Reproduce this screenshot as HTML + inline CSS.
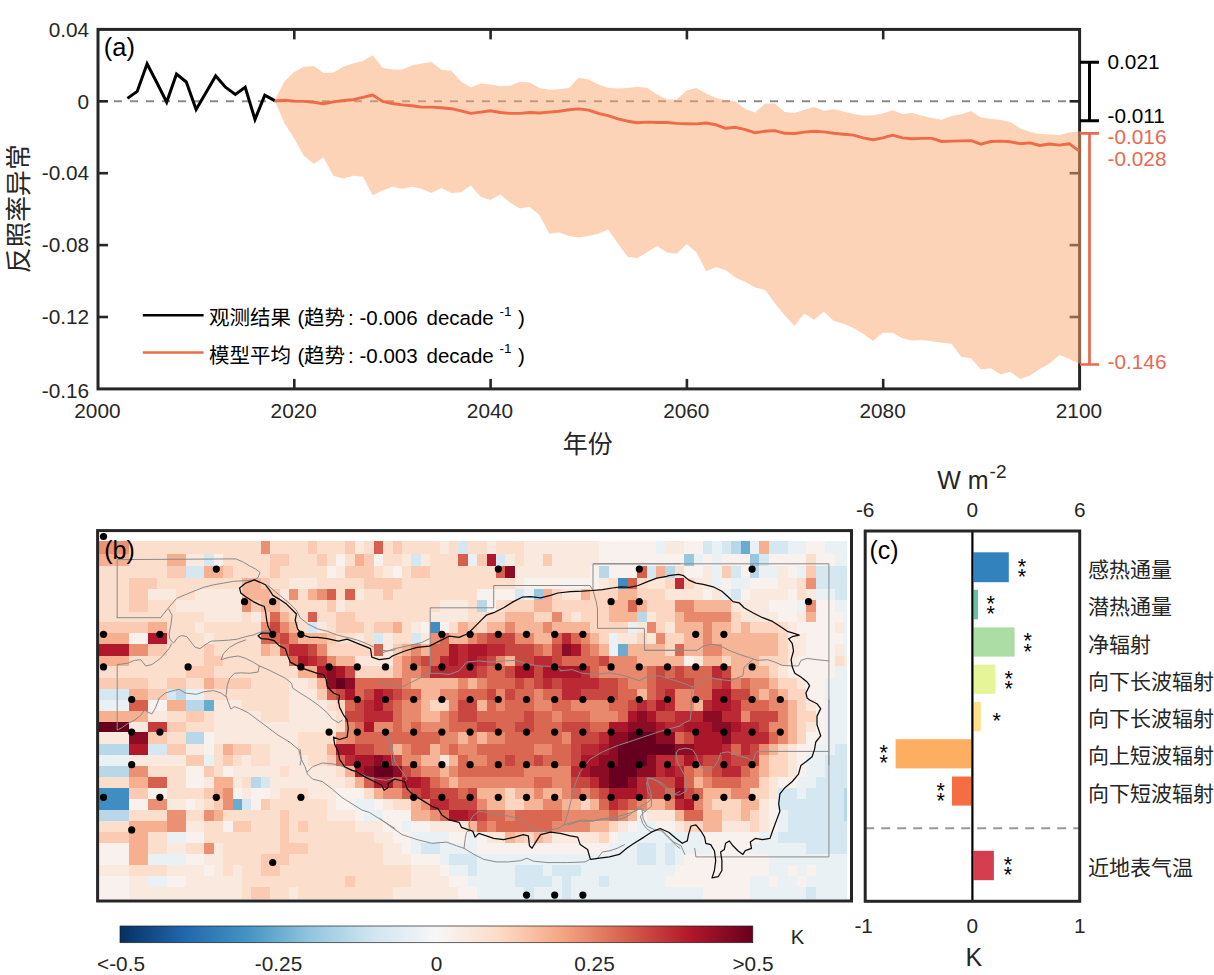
<!DOCTYPE html>
<html><head><meta charset="utf-8"><title>fig</title><style>
html,body{margin:0;padding:0;background:#fff;}body{width:1214px;height:975px;overflow:hidden;}
svg{display:block;}text{font-family:"Liberation Sans","Noto Sans CJK SC",sans-serif;}
</style></head><body>
<svg width="1214" height="975" viewBox="0 0 1214 975" fill="#262626">
<rect width="1214" height="975" fill="#fff"/>
<line x1="98.0" y1="101.3" x2="1079.6" y2="101.3" stroke="#8c8c8c" stroke-width="2" stroke-dasharray="8,8"/>
<rect x="98.0" y="29.4" width="981.6" height="359.5" fill="none" stroke="#262626" stroke-width="3"/>
<line x1="294.3" y1="29.4" x2="294.3" y2="39.4" stroke="#262626" stroke-width="2.6"/>
<line x1="294.3" y1="388.9" x2="294.3" y2="378.9" stroke="#262626" stroke-width="2.6"/>
<line x1="490.6" y1="29.4" x2="490.6" y2="39.4" stroke="#262626" stroke-width="2.6"/>
<line x1="490.6" y1="388.9" x2="490.6" y2="378.9" stroke="#262626" stroke-width="2.6"/>
<line x1="686.9" y1="29.4" x2="686.9" y2="39.4" stroke="#262626" stroke-width="2.6"/>
<line x1="686.9" y1="388.9" x2="686.9" y2="378.9" stroke="#262626" stroke-width="2.6"/>
<line x1="883.2" y1="29.4" x2="883.2" y2="39.4" stroke="#262626" stroke-width="2.6"/>
<line x1="883.2" y1="388.9" x2="883.2" y2="378.9" stroke="#262626" stroke-width="2.6"/>
<line x1="98.0" y1="101.3" x2="108.0" y2="101.3" stroke="#262626" stroke-width="2.6"/>
<line x1="1079.6" y1="101.3" x2="1069.6" y2="101.3" stroke="#262626" stroke-width="2.6"/>
<line x1="98.0" y1="173.2" x2="108.0" y2="173.2" stroke="#262626" stroke-width="2.6"/>
<line x1="1079.6" y1="173.2" x2="1069.6" y2="173.2" stroke="#262626" stroke-width="2.6"/>
<line x1="98.0" y1="245.1" x2="108.0" y2="245.1" stroke="#262626" stroke-width="2.6"/>
<line x1="1079.6" y1="245.1" x2="1069.6" y2="245.1" stroke="#262626" stroke-width="2.6"/>
<line x1="98.0" y1="317.0" x2="108.0" y2="317.0" stroke="#262626" stroke-width="2.6"/>
<line x1="1079.6" y1="317.0" x2="1069.6" y2="317.0" stroke="#262626" stroke-width="2.6"/>
<polygon points="274.6,100.5 284.4,81.5 294.2,72.0 304.0,66.8 313.8,65.9 323.6,72.9 333.4,72.5 343.2,66.8 353.1,63.4 362.9,61.1 372.7,55.2 382.5,67.7 392.3,69.4 402.1,69.8 411.9,65.6 421.7,63.4 431.5,62.1 441.4,69.8 451.2,70.8 461.0,81.5 470.8,87.5 480.6,83.5 490.4,84.4 500.2,86.2 510.0,85.8 519.8,81.7 529.6,82.6 539.5,88.0 549.3,89.8 559.1,89.3 568.9,88.0 578.7,77.7 588.5,79.5 598.3,84.4 608.1,87.7 617.9,88.6 627.7,88.0 637.6,86.8 647.4,88.0 657.2,94.4 667.0,99.4 676.8,99.4 686.6,90.4 696.4,88.0 706.2,93.5 716.0,98.0 725.8,100.2 735.6,101.6 745.5,109.2 755.3,112.5 765.1,103.4 774.9,103.4 784.7,111.9 794.5,113.0 804.3,109.8 814.1,107.1 823.9,110.7 833.8,109.2 843.6,111.6 853.4,113.9 863.2,115.6 873.0,115.2 882.8,113.4 892.6,110.3 902.4,113.9 912.2,113.0 922.0,115.7 931.9,117.9 941.7,119.7 951.5,116.1 961.3,114.3 971.1,111.0 980.9,117.6 990.7,118.8 1000.5,120.1 1010.3,121.9 1020.1,128.4 1030.0,132.1 1039.8,133.9 1049.6,134.6 1059.4,135.1 1069.2,132.4 1079.0,131.2 1081.0,131.2 1081.0,363.6 1079.0,363.6 1069.2,359.1 1059.4,355.1 1049.6,363.6 1039.8,369.1 1030.0,375.4 1020.1,379.0 1010.3,371.8 1000.5,374.5 990.7,368.2 980.9,369.6 971.1,358.2 961.3,356.9 951.5,343.7 941.7,342.4 931.9,341.3 922.0,340.1 912.2,340.4 902.4,338.3 892.6,332.8 882.8,332.8 873.0,341.0 863.2,333.7 853.4,327.9 843.6,323.8 833.8,321.0 823.9,311.6 814.1,319.8 804.3,313.4 794.5,326.1 784.7,315.6 774.9,303.3 765.1,289.9 755.3,287.5 745.5,282.1 735.6,277.6 725.8,270.3 716.0,267.0 706.2,271.2 696.4,252.2 686.6,244.0 676.8,253.7 667.0,252.5 657.2,246.1 647.4,251.9 637.6,257.9 627.7,257.0 617.9,243.4 608.1,229.4 598.3,233.8 588.5,236.1 578.7,237.4 568.9,236.1 559.1,232.5 549.3,233.8 539.5,215.3 529.6,206.8 519.8,208.4 510.0,202.6 500.2,194.5 490.4,199.9 480.6,196.8 470.8,185.4 461.0,192.2 451.2,193.1 441.4,187.9 431.5,193.1 421.7,188.8 411.9,186.7 402.1,188.8 392.3,186.7 382.5,190.5 372.7,195.3 362.9,176.7 353.1,175.8 343.2,178.4 333.4,175.8 323.6,157.6 313.8,163.7 304.0,155.9 294.2,138.6 284.4,123.0 274.6,100.5" fill="#fca772" fill-opacity="0.5"/>
<polyline points="274.6,100.9 284.4,100.2 294.2,101.1 304.0,101.4 313.8,102.3 323.6,103.7 333.4,101.9 343.2,100.5 353.1,99.7 362.9,97.4 372.7,95.0 382.5,101.4 392.3,103.5 402.1,104.9 411.9,105.7 421.7,107.1 431.5,107.1 441.4,107.8 451.2,108.7 461.0,110.9 470.8,113.4 480.6,112.1 490.4,110.7 500.2,112.5 510.0,113.4 519.8,113.4 529.6,112.5 539.5,113.0 549.3,112.1 559.1,111.2 568.9,109.8 578.7,108.9 588.5,110.1 598.3,113.4 608.1,115.6 617.9,118.8 627.7,121.2 637.6,122.8 647.4,122.1 657.2,122.5 667.0,122.5 676.8,123.4 686.6,123.7 696.4,123.9 706.2,123.0 716.0,124.8 725.8,128.3 735.6,127.3 745.5,129.7 755.3,132.8 765.1,131.2 774.9,130.6 784.7,133.3 794.5,133.5 804.3,132.1 814.1,131.3 823.9,131.9 833.8,133.3 843.6,134.2 853.4,135.1 863.2,137.9 873.0,139.7 882.8,137.9 892.6,135.1 902.4,137.9 912.2,138.8 922.0,138.4 931.9,138.4 941.7,141.5 951.5,141.1 961.3,140.9 971.1,140.6 980.9,144.2 990.7,141.5 1000.5,141.1 1010.3,141.8 1020.1,143.7 1030.0,142.9 1039.8,145.5 1049.6,144.0 1059.4,145.1 1069.2,143.7 1079.0,150.9" fill="none" stroke="#ee6b45" stroke-width="2.9" stroke-linejoin="round"/>
<polyline points="127.4,98.4 137.2,91.4 147.1,63.8 156.9,82.8 166.7,102.1 176.5,74.1 186.3,82.0 196.1,109.5 205.9,92.7 215.7,75.9 225.5,87.2 235.3,94.4 245.2,87.2 255.0,119.4 264.8,95.1 274.6,100.6" fill="none" stroke="#000" stroke-width="3" stroke-linejoin="miter"/>
<text x="89.2" y="36.6" font-size="20.8" text-anchor="end">0.04</text>
<text x="89.2" y="108.5" font-size="20.8" text-anchor="end">0</text>
<text x="89.2" y="180.4" font-size="20.8" text-anchor="end">-0.04</text>
<text x="89.2" y="252.3" font-size="20.8" text-anchor="end">-0.08</text>
<text x="89.2" y="324.2" font-size="20.8" text-anchor="end">-0.12</text>
<text x="89.2" y="398.0" font-size="20.8" text-anchor="end">-0.16</text>
<text x="97.4" y="418.0" font-size="20.8" text-anchor="middle">2000</text>
<text x="293.7" y="418.0" font-size="20.8" text-anchor="middle">2020</text>
<text x="490.0" y="418.0" font-size="20.8" text-anchor="middle">2040</text>
<text x="686.3" y="418.0" font-size="20.8" text-anchor="middle">2060</text>
<text x="882.6" y="418.0" font-size="20.8" text-anchor="middle">2080</text>
<text x="1078.9" y="418.0" font-size="20.8" text-anchor="middle">2100</text>
<text x="103.85" y="56.2" font-size="25.5" fill="#000">(a)</text>
<path d="M1080.0 62.3H1099.0M1080.0 120.7H1099.0M1089.5 62.3V120.7" stroke="#000" stroke-width="3.0" fill="none"/>
<path d="M1080.0 133.3H1099.0M1080.0 364.5H1099.0M1089.5 133.3V364.5" stroke="#e8694e" stroke-width="2.7" fill="none"/>
<text x="1107.5" y="68.8" font-size="20.8" fill="#000">0.021</text>
<text x="1107.5" y="122.5" font-size="20.8" fill="#000">-0.011</text>
<text x="1107.5" y="143.8" font-size="20.8" fill="#e8694e">-0.016</text>
<text x="1107.5" y="165.8" font-size="20.8" fill="#e8694e">-0.028</text>
<text x="1107.5" y="369" font-size="20.8" fill="#e8694e">-0.146</text>
<text transform="translate(28.30,208.80) rotate(-90)" x="0" y="0" font-size="25.8" fill="#262626" text-anchor="middle" font-family='"Liberation Sans","Noto Sans CJK SC",sans-serif'>反照率异常</text>
<text x="587.7" y="453" font-size="25" fill="#262626" text-anchor="middle" font-family='"Liberation Sans","Noto Sans CJK SC",sans-serif'>年份</text>
<line x1="142.8" y1="315.3" x2="203.6" y2="315.3" stroke="#000" stroke-width="2.6"/>
<line x1="142.8" y1="352.5" x2="203.6" y2="352.5" stroke="#ee6b45" stroke-width="2.6"/>
<text y="325.4" font-size="20.5" fill="#000" font-family='"Liberation Sans","Noto Sans CJK SC",sans-serif'><tspan x="209">观测结果</tspan><tspan x="297.5">(</tspan><tspan x="304">趋势</tspan><tspan x="348">:</tspan><tspan x="359.5">-0.006</tspan><tspan x="426.5">decade</tspan><tspan x="499.5" y="316.1" font-size="13.5">-1</tspan><tspan x="518" y="325.4">)</tspan></text>
<text y="362.6" font-size="20.5" fill="#000" font-family='"Liberation Sans","Noto Sans CJK SC",sans-serif'><tspan x="209">模型平均</tspan><tspan x="297.5">(</tspan><tspan x="304">趋势</tspan><tspan x="348">:</tspan><tspan x="359.5">-0.003</tspan><tspan x="426.5">decade</tspan><tspan x="499.5" y="353.3" font-size="13.5">-1</tspan><tspan x="518" y="362.6">)</tspan></text>
<rect x="973.5" y="552.3" width="35.3" height="29.9" fill="#3182bd"/>
<rect x="973.5" y="589.8" width="4.5" height="29.6" fill="#66c2a5"/>
<rect x="973.5" y="627.4" width="41.1" height="29.2" fill="#abdda4"/>
<rect x="973.5" y="664.6" width="22.0" height="29.2" fill="#e6f598"/>
<rect x="973.5" y="702.0" width="7.3" height="29.2" fill="#fee08b"/>
<rect x="895.6" y="739.2" width="75.7" height="29.2" fill="#fdae61"/>
<rect x="952.0" y="776.5" width="19.3" height="29.1" fill="#f46d43"/>
<rect x="973.5" y="850.8" width="20.4" height="29.4" fill="#d53e4f"/>
<line x1="865.2" y1="828.3" x2="1079.7" y2="828.3" stroke="#999" stroke-width="2" stroke-dasharray="9,7"/>
<line x1="972.4" y1="531.0" x2="972.4" y2="901.3" stroke="#000" stroke-width="2.2"/>
<rect x="865.2" y="531.0" width="214.5" height="370.3" fill="none" stroke="#262626" stroke-width="3"/>
<text x="869.4" y="558.9" font-size="25" fill="#000">(c)</text>
<text x="1021.9" y="573.5" font-size="21.5" fill="#000" text-anchor="middle">*</text>
<text x="1021.9" y="583.6" font-size="21.5" fill="#000" text-anchor="middle">*</text>
<text x="990.8" y="611.0" font-size="21.5" fill="#000" text-anchor="middle">*</text>
<text x="990.8" y="621.1" font-size="21.5" fill="#000" text-anchor="middle">*</text>
<text x="1027.8" y="648.4" font-size="21.5" fill="#000" text-anchor="middle">*</text>
<text x="1027.8" y="658.5" font-size="21.5" fill="#000" text-anchor="middle">*</text>
<text x="1008.8" y="685.8" font-size="21.5" fill="#000" text-anchor="middle">*</text>
<text x="1008.8" y="695.9" font-size="21.5" fill="#000" text-anchor="middle">*</text>
<text x="996.8" y="728.2" font-size="21.5" fill="#000" text-anchor="middle">*</text>
<text x="883.6" y="760.2" font-size="21.5" fill="#000" text-anchor="middle">*</text>
<text x="883.6" y="770.3" font-size="21.5" fill="#000" text-anchor="middle">*</text>
<text x="940.6" y="797.5" font-size="21.5" fill="#000" text-anchor="middle">*</text>
<text x="940.6" y="807.6" font-size="21.5" fill="#000" text-anchor="middle">*</text>
<text x="1008.0" y="872.2" font-size="21.5" fill="#000" text-anchor="middle">*</text>
<text x="1008.0" y="882.3" font-size="21.5" fill="#000" text-anchor="middle">*</text>
<text x="865.2" y="516.6" font-size="20.8" text-anchor="middle">-6</text>
<text x="972.4" y="516.6" font-size="20.8" text-anchor="middle">0</text>
<text x="1079.7" y="516.6" font-size="20.8" text-anchor="middle">6</text>
<text x="863.7" y="933.3" font-size="20.8" text-anchor="middle">-1</text>
<text x="972.4" y="933.3" font-size="20.8" text-anchor="middle">0</text>
<text x="1079.7" y="933.3" font-size="20.8" text-anchor="middle">1</text>
<text x="962.9" y="489.4" font-size="25" text-anchor="middle">W m</text>
<text x="989.6" y="478.1" font-size="19">-2</text>
<text x="973.8" y="966.3" font-size="25" text-anchor="middle">K</text>
<text x="1088.1" y="576.6" font-size="21" fill="#262626" font-family='"Liberation Sans","Noto Sans CJK SC",sans-serif'>感热通量</text>
<text x="1088.1" y="614.2" font-size="21" fill="#262626" font-family='"Liberation Sans","Noto Sans CJK SC",sans-serif'>潜热通量</text>
<text x="1088.1" y="651.8" font-size="21" fill="#262626" font-family='"Liberation Sans","Noto Sans CJK SC",sans-serif'>净辐射</text>
<text x="1088.1" y="688.8" font-size="21" fill="#262626" font-family='"Liberation Sans","Noto Sans CJK SC",sans-serif'>向下长波辐射</text>
<text x="1088.1" y="725.8" font-size="21" fill="#262626" font-family='"Liberation Sans","Noto Sans CJK SC",sans-serif'>向下长波辐射</text>
<text x="1088.1" y="763.2" font-size="21" fill="#262626" font-family='"Liberation Sans","Noto Sans CJK SC",sans-serif'>向上短波辐射</text>
<text x="1088.1" y="800.8" font-size="21" fill="#262626" font-family='"Liberation Sans","Noto Sans CJK SC",sans-serif'>向下短波辐射</text>
<text x="1088.1" y="875.2" font-size="21" fill="#262626" font-family='"Liberation Sans","Noto Sans CJK SC",sans-serif'>近地表气温</text>
<g id="map">
<g shape-rendering="crispEdges">
<path fill="#eb9072" d="M99 541h30v13h-30zM261 541h9v13h-9zM806 578h10v11h-10zM289 589h9v11h-9zM317 589h10v11h-10zM242 600h9v12h-9zM806 600h10v12h-10zM261 622h9v11h-9zM430 633h10v11h-10zM129 644h19v12h-19zM336 732h9v12h-9zM129 766h19v11h-19zM223 788h10v11h-10zM383 788h19v11h-19zM148 799h19v11h-19zM223 799h10v11h-10zM421 799h9v11h-9zM167 810h19v11h-19zM204 810h10v11h-10zM430 810h10v11h-10zM167 821h19v11h-19zM204 843h10v11h-10z"/>
<path fill="#fcdecc" d="M129 541h132v13h-132zM270 541h38v13h-38zM317 541h28v13h-28zM364 541h10v13h-10zM383 541h10v13h-10zM402 541h38v13h-38zM449 541h9v13h-9zM468 541h19v13h-19zM496 541h28v13h-28zM129 554h38v12h-38zM223 554h47v12h-47zM289 554h28v12h-28zM327 554h9v12h-9zM345 554h10v12h-10zM383 554h19v12h-19zM430 554h28v12h-28zM515 554h9v12h-9zM806 554h10v12h-10zM99 566h68v12h-68zM233 566h37v12h-37zM280 566h47v12h-47zM374 566h9v12h-9zM402 566h9v12h-9zM430 566h66v12h-66zM675 566h9v12h-9zM99 578h30v11h-30zM157 578h85v11h-85zM270 578h19v11h-19zM317 578h47v11h-47zM402 578h113v11h-113zM609 578h9v11h-9zM637 578h10v11h-10zM797 578h9v11h-9zM99 589h30v11h-30zM176 589h19v11h-19zM298 589h10v11h-10zM336 589h9v11h-9zM364 589h19v11h-19zM393 589h84v11h-84zM797 589h9v11h-9zM99 600h30v12h-30zM148 600h28v12h-28zM289 600h38v12h-38zM345 600h95v12h-95zM468 600h9v12h-9zM496 600h9v12h-9zM99 612h105v10h-105zM242 612h9v10h-9zM298 612h10v10h-10zM317 612h19v10h-19zM355 612h75v10h-75zM468 612h19v10h-19zM167 622h28v11h-28zM204 622h57v11h-57zM298 622h10v11h-10zM327 622h9v11h-9zM364 622h10v11h-10zM402 622h9v11h-9zM449 622h9v11h-9zM778 622h10v11h-10zM167 633h37v11h-37zM214 633h47v11h-47zM336 633h19v11h-19zM364 633h10v11h-10zM393 633h18v11h-18zM167 644h37v12h-37zM214 644h47v12h-47zM129 656h75v10h-75zM223 656h66v10h-66zM835 656h9v10h-9zM99 666h87v12h-87zM214 666h84v12h-84zM148 678h19v11h-19zM186 678h18v11h-18zM251 678h38v11h-38zM308 678h9v11h-9zM204 689h85v11h-85zM242 700h47v11h-47zM327 700h9v11h-9zM167 711h19v11h-19zM204 711h10v11h-10zM261 711h28v11h-28zM336 711h9v11h-9zM186 722h28v10h-28zM336 722h9v10h-9zM167 732h19v12h-19zM298 732h38v12h-38zM214 744h9v11h-9zM251 744h19v11h-19zM298 744h29v11h-29zM214 755h9v11h-9zM233 755h9v11h-9zM251 755h19v11h-19zM308 755h19v11h-19zM148 766h38v11h-38zM214 766h9v11h-9zM280 766h9v11h-9zM336 766h9v11h-9zM99 777h30v11h-30zM167 777h19v11h-19zM242 777h9v11h-9zM345 777h10v11h-10zM167 788h37v11h-37zM280 788h28v11h-28zM364 788h10v11h-10zM204 799h10v11h-10zM270 799h57v11h-57zM393 799h18v11h-18zM129 810h38v11h-38zM186 810h18v11h-18zM223 810h57v11h-57zM289 810h38v11h-38zM99 821h30v11h-30zM204 821h19v11h-19zM251 821h29v11h-29zM289 821h9v11h-9zM308 821h47v11h-47zM148 832h19v11h-19zM204 832h76v11h-76zM289 832h85v11h-85zM148 843h19v11h-19zM186 843h18v11h-18zM223 843h57v11h-57zM308 843h75v11h-75zM223 854h38v11h-38zM289 854h94v11h-94zM129 865h38v11h-38zM223 865h10v11h-10zM242 865h19v11h-19zM280 865h131v11h-131zM242 876h103v11h-103zM355 876h56v11h-56zM242 887h9v12h-9zM270 887h19v12h-19zM298 887h95v12h-95z"/>
<path fill="#facbb2" d="M308 541h9v13h-9zM345 541h10v13h-10zM393 541h9v13h-9zM270 554h19v12h-19zM317 554h10v12h-10zM364 554h10v12h-10zM477 554h10v12h-10zM543 554h9v12h-9zM167 566h19v12h-19zM223 566h10v12h-10zM270 566h10v12h-10zM345 566h29v12h-29zM411 566h19v12h-19zM722 566h9v12h-9zM806 566h10v12h-10zM129 578h28v11h-28zM261 578h9v11h-9zM364 578h38v11h-38zM129 589h19v11h-19zM270 589h10v11h-10zM383 589h10v11h-10zM129 600h19v12h-19zM251 600h10v12h-10zM327 600h9v12h-9zM261 612h9v10h-9zM336 612h19v10h-19zM99 622h49v11h-49zM336 622h28v11h-28zM374 622h19v11h-19zM468 622h9v11h-9zM327 633h9v11h-9zM148 644h19v12h-19zM204 644h10v12h-10zM270 644h10v12h-10zM393 644h9v12h-9zM204 656h19v10h-19zM186 666h28v12h-28zM99 678h49v11h-49zM167 678h19v11h-19zM214 678h37v11h-37zM148 689h19v11h-19zM317 689h10v11h-10zM186 711h18v11h-18zM167 722h19v10h-19zM148 732h19v12h-19zM167 744h19v11h-19zM233 744h18v11h-18zM186 755h18v11h-18zM223 755h10v11h-10zM327 755h9v11h-9zM204 766h10v11h-10zM129 788h19v11h-19zM204 788h10v11h-10zM214 799h9v11h-9zM261 799h9v11h-9zM280 810h9v11h-9zM233 821h18v11h-18zM280 821h9v11h-9zM298 821h10v11h-10zM99 832h30v11h-30zM280 832h9v11h-9zM515 832h9v11h-9zM543 832h9v11h-9zM280 843h28v11h-28zM261 854h28v11h-28zM261 865h19v11h-19zM345 876h10v11h-10zM251 887h19v12h-19z"/>
<path fill="#fae9df" d="M355 541h9v13h-9zM440 541h9v13h-9zM487 541h9v13h-9zM524 541h75v13h-75zM665 541h19v13h-19zM186 554h18v12h-18zM402 554h9v12h-9zM421 554h9v12h-9zM505 554h10v12h-10zM524 554h19v12h-19zM552 554h47v12h-47zM336 566h9v12h-9zM383 566h10v12h-10zM515 566h75v12h-75zM703 566h9v12h-9zM778 566h10v12h-10zM289 578h28v11h-28zM515 578h9v11h-9zM599 578h10v11h-10zM703 578h9v11h-9zM778 578h19v11h-19zM148 589h28v11h-28zM195 589h47v11h-47zM280 589h9v11h-9zM355 589h9v11h-9zM750 589h38v11h-38zM806 589h10v11h-10zM176 600h66v12h-66zM336 600h9v12h-9zM440 600h28v12h-28zM741 600h28v12h-28zM204 612h38v10h-38zM251 612h10v10h-10zM430 612h38v10h-38zM759 612h19v10h-19zM797 612h9v10h-9zM195 622h9v11h-9zM317 622h10v11h-10zM411 622h10v11h-10zM788 622h9v11h-9zM835 622h9v11h-9zM204 633h10v11h-10zM355 633h9v11h-9zM383 633h10v11h-10zM421 633h9v11h-9zM788 633h18v11h-18zM383 644h10v12h-10zM797 644h9v12h-9zM835 644h9v12h-9zM788 656h9v10h-9zM844 656h3v10h-3zM289 678h19v11h-19zM289 689h28v11h-28zM214 700h28v11h-28zM289 700h38v11h-38zM148 711h19v11h-19zM214 711h47v11h-47zM289 711h47v11h-47zM129 722h19v10h-19zM214 722h122v10h-122zM99 732h30v12h-30zM214 732h84v12h-84zM186 744h18v11h-18zM270 744h28v11h-28zM129 755h57v11h-57zM242 755h9v11h-9zM270 755h38v11h-38zM233 766h47v11h-47zM289 766h47v11h-47zM204 777h10v11h-10zM233 777h9v11h-9zM270 777h75v11h-75zM242 788h9v11h-9zM270 788h10v11h-10zM308 788h28v11h-28zM167 799h19v11h-19zM195 799h9v11h-9zM327 799h9v11h-9zM383 799h10v11h-10zM327 810h28v11h-28zM186 821h18v11h-18zM355 821h28v11h-28zM430 821h28v11h-28zM374 832h19v11h-19zM552 832h29v11h-29zM167 843h19v11h-19zM214 843h9v11h-9zM383 843h19v11h-19zM204 854h19v11h-19zM383 854h28v11h-28zM99 865h30v11h-30zM167 865h37v11h-37zM214 865h9v11h-9zM233 865h9v11h-9zM411 865h29v11h-29zM129 876h19v11h-19zM186 876h56v11h-56zM411 876h38v11h-38zM129 887h113v12h-113zM289 887h9v12h-9zM393 887h65v12h-65z"/>
<path fill="#d6604d" d="M374 541h9v13h-9zM458 554h10v12h-10zM496 566h9v12h-9zM637 566h10v12h-10zM628 578h9v11h-9zM327 589h9v11h-9zM345 589h10v11h-10zM308 612h9v10h-9zM280 644h9v12h-9zM374 644h9v12h-9zM327 689h9v11h-9zM129 700h19v11h-19zM148 777h19v11h-19zM364 777h10v11h-10zM393 777h9v11h-9zM402 788h9v11h-9z"/>
<path fill="#d5e7f1" d="M458 541h10v13h-10zM703 541h9v13h-9zM722 541h9v13h-9zM769 541h19v13h-19zM204 554h10v12h-10zM411 554h10v12h-10zM496 554h9v12h-9zM759 554h10v12h-10zM186 566h18v12h-18zM647 566h9v12h-9zM731 566h10v12h-10zM816 566h31v12h-31zM816 578h31v11h-31zM515 589h9v11h-9zM731 589h10v11h-10zM835 589h12v11h-12zM308 622h9v11h-9zM374 633h9v11h-9zM411 633h10v11h-10zM99 689h30v11h-30zM167 689h9v11h-9zM148 744h19v11h-19zM835 744h12v11h-12zM825 755h22v11h-22zM825 766h22v11h-22zM261 777h9v11h-9zM816 777h31v11h-31zM778 788h19v11h-19zM806 788h38v11h-38zM242 799h9v11h-9zM778 799h66v11h-66zM788 810h56v11h-56zM788 821h59v11h-59zM778 832h69v11h-69zM421 843h19v11h-19zM637 843h19v11h-19zM665 843h10v11h-10zM806 843h41v11h-41zM449 854h28v11h-28zM637 854h19v11h-19zM665 854h10v11h-10zM468 865h9v11h-9zM515 865h28v11h-28zM552 865h29v11h-29zM515 876h37v11h-37zM562 876h9v11h-9zM599 876h10v11h-10zM524 887h10v12h-10zM562 887h9v12h-9zM806 887h10v12h-10z"/>
<path fill="#f8f1ed" d="M599 541h57v13h-57zM684 541h19v13h-19zM806 541h19v13h-19zM214 554h9v12h-9zM336 554h9v12h-9zM374 554h9v12h-9zM599 554h85v12h-85zM703 554h9v12h-9zM722 554h28v12h-28zM769 554h37v12h-37zM816 554h19v12h-19zM327 566h9v12h-9zM393 566h9v12h-9zM590 566h9v12h-9zM609 566h28v12h-28zM684 566h19v12h-19zM741 566h9v12h-9zM788 566h9v12h-9zM524 578h75v11h-75zM722 578h9v11h-9zM750 578h28v11h-28zM477 589h38v11h-38zM703 589h9v11h-9zM741 589h9v11h-9zM788 589h9v11h-9zM487 600h9v12h-9zM769 600h28v12h-28zM816 600h19v12h-19zM778 612h19v10h-19zM816 612h28v10h-28zM421 622h9v11h-9zM440 622h9v11h-9zM797 622h38v11h-38zM129 633h19v11h-19zM806 633h38v11h-38zM806 644h29v12h-29zM684 656h10v10h-10zM797 656h38v10h-38zM788 666h47v12h-47zM806 678h19v11h-19zM806 689h19v11h-19zM148 700h19v11h-19zM816 700h9v11h-9zM816 711h9v11h-9zM816 722h9v10h-9zM204 732h10v12h-10zM806 732h19v12h-19zM204 744h10v11h-10zM797 744h19v11h-19zM797 755h9v11h-9zM186 766h18v11h-18zM223 766h10v11h-10zM797 766h9v11h-9zM186 777h18v11h-18zM778 777h19v11h-19zM148 788h19v11h-19zM233 788h9v11h-9zM251 788h19v11h-19zM336 788h28v11h-28zM129 799h19v11h-19zM186 799h9v11h-9zM251 799h10v11h-10zM336 799h19v11h-19zM374 799h9v11h-9zM769 799h9v11h-9zM355 810h9v11h-9zM383 810h28v11h-28zM637 810h10v11h-10zM769 810h9v11h-9zM223 821h10v11h-10zM383 821h19v11h-19zM411 821h19v11h-19zM628 821h9v11h-9zM656 821h19v11h-19zM769 821h9v11h-9zM186 832h18v11h-18zM393 832h18v11h-18zM449 832h19v11h-19zM477 832h10v11h-10zM609 832h9v11h-9zM703 832h56v11h-56zM99 843h30v11h-30zM402 843h9v11h-9zM477 843h132v11h-132zM712 843h38v11h-38zM99 854h30v11h-30zM186 854h18v11h-18zM411 854h29v11h-29zM684 854h85v11h-85zM204 865h10v11h-10zM440 865h9v11h-9zM675 865h94v11h-94zM788 865h9v11h-9zM806 865h10v11h-10zM99 876h30v11h-30zM167 876h19v11h-19zM449 876h19v11h-19zM665 876h85v11h-85zM769 876h9v11h-9zM797 876h9v11h-9zM99 887h30v12h-30zM458 887h19v12h-19zM703 887h47v12h-47z"/>
<path fill="#eaf1f5" d="M656 541h9v13h-9zM712 541h10v13h-10zM750 541h9v13h-9zM788 541h18v13h-18zM825 541h22v13h-22zM468 554h9v12h-9zM694 554h9v12h-9zM712 554h10v12h-10zM835 554h12v12h-12zM712 566h10v12h-10zM759 566h19v12h-19zM797 566h9v12h-9zM712 578h10v11h-10zM731 578h19v11h-19zM524 589h10v11h-10zM722 589h9v11h-9zM816 589h19v11h-19zM797 600h9v12h-9zM835 600h12v12h-12zM844 612h3v10h-3zM628 622h9v11h-9zM844 622h3v11h-3zM609 633h9v11h-9zM844 633h3v11h-3zM609 644h9v12h-9zM844 644h3v12h-3zM835 666h12v12h-12zM825 678h22v11h-22zM186 689h18v11h-18zM825 689h22v11h-22zM99 700h30v11h-30zM825 700h22v11h-22zM825 711h22v11h-22zM825 722h22v10h-22zM825 732h22v12h-22zM816 744h19v11h-19zM99 755h30v11h-30zM204 755h10v11h-10zM806 755h19v11h-19zM806 766h19v11h-19zM797 777h19v11h-19zM797 788h9v11h-9zM355 799h19v11h-19zM364 810h19v11h-19zM778 810h10v11h-10zM402 821h9v11h-9zM637 821h19v11h-19zM778 821h10v11h-10zM167 832h19v11h-19zM411 832h38v11h-38zM468 832h9v11h-9zM618 832h85v11h-85zM759 832h19v11h-19zM411 843h10v11h-10zM440 843h37v11h-37zM609 843h28v11h-28zM656 843h9v11h-9zM675 843h37v11h-37zM750 843h56v11h-56zM148 854h38v11h-38zM440 854h9v11h-9zM477 854h160v11h-160zM656 854h9v11h-9zM675 854h9v11h-9zM769 854h78v11h-78zM449 865h19v11h-19zM477 865h38v11h-38zM543 865h9v11h-9zM581 865h94v11h-94zM769 865h19v11h-19zM797 865h9v11h-9zM816 865h31v11h-31zM148 876h19v11h-19zM468 876h47v11h-47zM552 876h10v11h-10zM571 876h28v11h-28zM609 876h56v11h-56zM750 876h19v11h-19zM778 876h19v11h-19zM806 876h41v11h-41zM477 887h47v12h-47zM534 887h28v12h-28zM571 887h132v12h-132zM750 887h56v12h-56zM816 887h31v12h-31z"/>
<path fill="#b8d8e9" d="M731 541h10v13h-10zM599 566h10v12h-10zM665 566h10v12h-10zM750 566h9v12h-9zM477 600h10v12h-10zM637 612h10v10h-10zM176 689h10v11h-10zM186 700h18v11h-18zM186 732h18v12h-18zM99 744h30v11h-30zM99 766h30v11h-30zM251 777h10v11h-10zM844 788h3v11h-3zM844 799h3v11h-3zM99 810h30v11h-30zM844 810h3v11h-3z"/>
<path fill="#6aacd0" d="M741 541h9v13h-9zM618 644h10v12h-10zM204 700h10v11h-10zM233 799h9v11h-9z"/>
<path fill="#f6b090" d="M759 541h10v13h-10zM99 554h30v12h-30zM167 554h19v12h-19zM355 554h9v12h-9zM204 566h19v12h-19zM656 566h9v12h-9zM308 589h9v11h-9zM543 589h9v11h-9zM806 612h10v10h-10zM148 622h19v11h-19zM393 622h9v11h-9zM458 622h10v11h-10zM99 633h30v11h-30zM261 644h9v12h-9zM402 644h9v12h-9zM99 656h30v10h-30zM298 666h19v12h-19zM204 678h10v11h-10zM317 678h10v11h-10zM129 689h19v11h-19zM167 700h19v11h-19zM99 711h49v11h-49zM223 744h10v11h-10zM327 744h9v11h-9zM345 766h10v11h-10zM129 777h19v11h-19zM214 777h19v11h-19zM355 777h9v11h-9zM214 788h9v11h-9zM374 788h9v11h-9zM411 799h10v11h-10zM214 810h9v11h-9zM411 810h19v11h-19zM129 821h38v11h-38zM129 832h19v11h-19zM129 843h19v11h-19zM129 854h19v11h-19z"/>
<path fill="#b2182b" d="M487 554h9v12h-9zM148 633h19v11h-19zM99 644h30v12h-30zM129 744h19v11h-19z"/>
<path fill="#98c8e0" d="M684 554h10v12h-10zM750 554h9v12h-9zM534 589h9v11h-9z"/>
<path fill="#8c0c25" d="M505 566h10v12h-10zM562 644h9v12h-9zM327 666h9v12h-9zM327 678h9v11h-9zM345 678h10v11h-10zM637 711h10v11h-10zM703 711h19v11h-19zM628 722h28v10h-28zM712 722h19v10h-19zM129 732h19v12h-19zM609 732h19v12h-19zM656 732h19v12h-19zM722 732h9v12h-9zM609 744h9v11h-9zM675 744h19v11h-19zM374 755h9v11h-9zM599 755h19v11h-19zM647 755h9v11h-9zM364 766h10v11h-10zM393 766h9v11h-9zM590 766h19v11h-19zM637 766h19v11h-19zM599 777h10v11h-10zM628 777h9v11h-9zM675 788h9v11h-9z"/>
<path fill="#f7b597" d="M242 578h19v11h-19zM242 589h28v11h-28zM581 589h9v11h-9zM618 589h19v11h-19zM261 600h19v12h-19zM534 600h18v12h-18zM609 600h19v12h-19zM637 600h10v12h-10zM694 600h37v12h-37zM280 612h9v10h-9zM505 612h29v10h-29zM609 612h28v10h-28zM675 612h9v10h-9zM289 622h9v11h-9zM487 622h18v11h-18zM515 622h28v11h-28zM552 622h38v11h-38zM675 622h28v11h-28zM712 622h19v11h-19zM741 622h9v11h-9zM298 633h29v11h-29zM449 633h19v11h-19zM534 633h18v11h-18zM590 633h9v11h-9zM684 633h19v11h-19zM712 633h66v11h-66zM421 644h9v12h-9zM599 644h10v12h-10zM628 644h37v12h-37zM684 644h19v12h-19zM722 644h56v12h-56zM336 656h19v10h-19zM393 656h9v10h-9zM505 656h10v10h-10zM637 656h47v10h-47zM703 656h19v10h-19zM731 656h28v10h-28zM393 666h9v12h-9zM731 666h38v12h-38zM411 678h47v11h-47zM468 678h9v11h-9zM769 678h9v11h-9zM421 689h19v11h-19zM637 689h10v11h-10zM759 689h10v11h-10zM778 689h10v11h-10zM421 700h9v11h-9zM477 700h10v11h-10zM694 700h9v11h-9zM788 700h9v11h-9zM421 711h19v11h-19zM788 711h9v11h-9zM788 722h9v10h-9zM458 732h10v12h-10zM477 732h10v12h-10zM788 732h9v12h-9zM393 744h9v11h-9zM430 744h10v11h-10zM769 744h9v11h-9zM421 755h19v11h-19zM449 755h9v11h-9zM759 755h10v11h-10zM440 766h9v11h-9zM759 766h10v11h-10zM449 777h9v11h-9zM694 777h9v11h-9zM477 788h28v11h-28zM515 788h19v11h-19zM543 788h19v11h-19zM703 788h28v11h-28zM487 799h18v11h-18zM524 799h19v11h-19zM562 799h19v11h-19zM590 799h9v11h-9zM647 799h18v11h-18zM703 799h9v11h-9zM741 799h18v11h-18zM628 810h9v11h-9zM675 810h9v11h-9zM703 810h19v11h-19zM741 810h9v11h-9zM468 821h9v11h-9zM590 821h19v11h-19zM703 821h19v11h-19zM505 832h10v11h-10zM534 832h9v11h-9z"/>
<path fill="#408ec1" d="M618 578h10v11h-10zM430 622h10v11h-10zM99 788h30v11h-30zM99 799h30v11h-30z"/>
<path fill="#fbe6da" d="M647 578h18v11h-18zM694 578h9v11h-9zM562 589h19v11h-19zM665 589h38v11h-38zM712 589h10v11h-10zM731 600h10v12h-10zM571 612h10v10h-10zM647 612h9v10h-9zM741 612h18v10h-18zM637 622h10v11h-10zM665 622h10v11h-10zM618 633h19v11h-19zM647 633h9v11h-9zM788 644h9v12h-9zM355 656h38v10h-38zM694 656h9v10h-9zM778 666h10v12h-10zM797 678h9v11h-9zM806 700h10v11h-10zM806 722h10v10h-10zM788 744h9v11h-9zM440 755h9v11h-9zM788 755h9v11h-9zM788 766h9v11h-9zM769 777h9v11h-9zM769 788h9v11h-9zM759 799h10v11h-10zM647 810h28v11h-28zM759 810h10v11h-10zM458 821h10v11h-10zM618 821h10v11h-10zM675 821h9v11h-9zM722 821h28v11h-28zM759 821h10v11h-10zM487 832h18v11h-18zM581 832h18v11h-18z"/>
<path fill="#fcd6c0" d="M665 578h10v11h-10zM684 578h10v11h-10zM552 589h10v11h-10zM590 589h28v11h-28zM637 589h28v11h-28zM280 600h9v12h-9zM505 600h29v12h-29zM552 600h57v12h-57zM647 600h28v12h-28zM289 612h9v10h-9zM487 612h18v10h-18zM534 612h18v10h-18zM562 612h9v10h-9zM581 612h28v10h-28zM656 612h19v10h-19zM731 612h10v10h-10zM477 622h10v11h-10zM590 622h38v11h-38zM656 622h9v11h-9zM731 622h10v11h-10zM750 622h28v11h-28zM599 633h10v11h-10zM637 633h10v11h-10zM665 633h19v11h-19zM778 633h10v11h-10zM327 644h47v12h-47zM665 644h10v12h-10zM778 644h10v12h-10zM722 656h9v10h-9zM759 656h29v10h-29zM355 666h38v12h-38zM769 666h9v12h-9zM778 678h19v11h-19zM788 689h18v11h-18zM336 700h9v11h-9zM430 700h19v11h-19zM797 700h9v11h-9zM797 711h19v11h-19zM797 722h9v10h-9zM797 732h9v12h-9zM778 744h10v11h-10zM769 755h19v11h-19zM769 766h19v11h-19zM759 777h10v11h-10zM505 788h10v11h-10zM750 788h19v11h-19zM505 799h19v11h-19zM581 799h9v11h-9zM712 799h29v11h-29zM722 810h19v11h-19zM750 810h9v11h-9zM609 821h9v11h-9zM684 821h19v11h-19zM750 821h9v11h-9zM524 832h10v11h-10zM599 832h10v11h-10z"/>
<path fill="#bb2a34" d="M675 578h9v11h-9zM562 633h9v11h-9zM289 644h19v12h-19zM458 644h10v12h-10zM487 644h18v12h-18zM308 656h9v10h-9zM440 656h9v10h-9zM458 656h10v10h-10zM477 656h10v10h-10zM534 656h18v10h-18zM430 666h47v12h-47zM581 666h9v12h-9zM712 666h10v12h-10zM543 678h9v11h-9zM562 678h37v11h-37zM722 678h9v11h-9zM383 689h10v11h-10zM562 689h19v11h-19zM665 689h10v11h-10zM364 700h10v11h-10zM637 700h10v11h-10zM665 700h10v11h-10zM703 700h9v11h-9zM731 700h10v11h-10zM364 711h29v11h-29zM675 711h28v11h-28zM722 711h19v11h-19zM665 722h19v10h-19zM741 722h18v10h-18zM599 732h10v12h-10zM731 732h38v12h-38zM581 744h18v11h-18zM722 744h9v11h-9zM741 744h9v11h-9zM345 755h10v11h-10zM656 755h19v11h-19zM694 755h9v11h-9zM722 755h9v11h-9zM571 766h10v11h-10zM656 766h9v11h-9zM675 766h9v11h-9zM722 766h19v11h-19zM421 777h9v11h-9zM590 777h9v11h-9zM637 777h10v11h-10zM421 788h9v11h-9zM637 788h10v11h-10zM430 799h19v11h-19zM609 799h9v11h-9zM675 799h9v11h-9zM468 810h9v11h-9z"/>
<path fill="#d96752" d="M628 600h9v12h-9zM270 612h10v10h-10zM261 633h19v11h-19zM440 633h9v11h-9zM477 633h10v11h-10zM552 633h10v11h-10zM571 633h10v11h-10zM430 644h19v12h-19zM534 644h9v12h-9zM581 644h9v12h-9zM675 644h9v12h-9zM289 656h9v10h-9zM411 656h10v10h-10zM430 656h10v10h-10zM562 656h37v10h-37zM421 666h9v12h-9zM487 666h18v12h-18zM590 666h9v12h-9zM647 666h9v12h-9zM665 666h10v12h-10zM684 666h28v12h-28zM355 678h47v11h-47zM487 678h28v11h-28zM524 678h10v11h-10zM618 678h10v11h-10zM647 678h9v11h-9zM694 678h18v11h-18zM741 678h9v11h-9zM355 689h9v11h-9zM402 689h19v11h-19zM458 689h29v11h-29zM515 689h19v11h-19zM543 689h19v11h-19zM618 689h19v11h-19zM647 689h9v11h-9zM694 689h18v11h-18zM345 700h10v11h-10zM393 700h9v11h-9zM487 700h9v11h-9zM505 700h29v11h-29zM552 700h19v11h-19zM609 700h19v11h-19zM741 700h28v11h-28zM393 711h9v11h-9zM449 711h9v11h-9zM477 711h47v11h-47zM534 711h18v11h-18zM562 711h28v11h-28zM618 711h10v11h-10zM355 722h9v10h-9zM393 722h9v10h-9zM411 722h10v10h-10zM449 722h28v10h-28zM496 722h19v10h-19zM534 722h28v10h-28zM590 722h19v10h-19zM355 732h85v12h-85zM505 732h57v12h-57zM675 732h9v12h-9zM769 732h9v12h-9zM374 744h19v11h-19zM411 744h19v11h-19zM449 744h9v11h-9zM477 744h57v11h-57zM552 744h19v11h-19zM731 744h10v11h-10zM336 755h9v11h-9zM458 755h10v11h-10zM487 755h18v11h-18zM515 755h19v11h-19zM543 755h28v11h-28zM411 766h10v11h-10zM458 766h66v11h-66zM684 766h10v11h-10zM703 766h9v11h-9zM741 766h9v11h-9zM430 777h10v11h-10zM534 777h18v11h-18zM684 777h10v11h-10zM712 777h29v11h-29zM458 788h10v11h-10zM571 788h10v11h-10zM590 788h9v11h-9zM665 788h10v11h-10zM694 788h9v11h-9zM599 799h10v11h-10zM628 799h9v11h-9zM440 810h9v11h-9zM487 810h18v11h-18zM515 810h47v11h-47zM609 810h9v11h-9zM684 810h19v11h-19zM477 821h10v11h-10zM496 821h56v11h-56z"/>
<path fill="#e8896d" d="M675 600h19v12h-19zM552 612h10v10h-10zM684 612h47v10h-47zM280 622h9v11h-9zM505 622h10v11h-10zM543 622h9v11h-9zM647 622h9v11h-9zM703 622h9v11h-9zM289 633h9v11h-9zM468 633h9v11h-9zM515 633h19v11h-19zM581 633h9v11h-9zM656 633h9v11h-9zM703 633h9v11h-9zM317 644h10v12h-10zM411 644h10v12h-10zM543 644h9v12h-9zM590 644h9v12h-9zM703 644h19v12h-19zM327 656h9v10h-9zM402 656h9v10h-9zM496 656h9v10h-9zM609 656h28v10h-28zM402 666h19v12h-19zM599 666h48v12h-48zM402 678h9v11h-9zM458 678h10v11h-10zM477 678h10v11h-10zM628 678h19v11h-19zM731 678h10v11h-10zM750 678h19v11h-19zM440 689h18v11h-18zM496 689h9v11h-9zM534 689h9v11h-9zM675 689h19v11h-19zM750 689h9v11h-9zM769 689h9v11h-9zM402 700h19v11h-19zM449 700h9v11h-9zM496 700h9v11h-9zM534 700h18v11h-18zM571 700h38v11h-38zM675 700h19v11h-19zM769 700h19v11h-19zM402 711h19v11h-19zM440 711h9v11h-9zM552 711h10v11h-10zM590 711h28v11h-28zM741 711h9v11h-9zM778 711h10v11h-10zM345 722h10v10h-10zM374 722h19v10h-19zM402 722h9v10h-9zM421 722h28v10h-28zM769 722h19v10h-19zM345 732h10v12h-10zM440 732h18v12h-18zM468 732h9v12h-9zM487 732h18v12h-18zM562 732h9v12h-9zM778 732h10v12h-10zM402 744h9v11h-9zM440 744h9v11h-9zM458 744h19v11h-19zM534 744h18v11h-18zM759 744h10v11h-10zM402 755h19v11h-19zM468 755h19v11h-19zM421 766h19v11h-19zM449 766h9v11h-9zM524 766h47v11h-47zM694 766h9v11h-9zM750 766h9v11h-9zM440 777h9v11h-9zM458 777h76v11h-76zM552 777h19v11h-19zM703 777h9v11h-9zM741 777h18v11h-18zM534 788h9v11h-9zM562 788h9v11h-9zM581 788h9v11h-9zM731 788h19v11h-19zM477 799h10v11h-10zM543 799h19v11h-19zM637 799h10v11h-10zM665 799h10v11h-10zM694 799h9v11h-9zM505 810h10v11h-10zM562 810h47v11h-47zM618 810h10v11h-10zM487 821h9v11h-9zM552 821h38v11h-38z"/>
<path fill="#c94741" d="M270 622h10v11h-10zM280 633h9v11h-9zM487 633h28v11h-28zM308 644h9v12h-9zM505 644h29v12h-29zM552 644h10v12h-10zM317 656h10v10h-10zM421 656h9v10h-9zM487 656h9v10h-9zM515 656h19v10h-19zM552 656h10v10h-10zM599 656h10v10h-10zM345 666h10v12h-10zM477 666h10v12h-10zM505 666h10v12h-10zM534 666h9v12h-9zM656 666h9v12h-9zM675 666h9v12h-9zM722 666h9v12h-9zM515 678h9v11h-9zM534 678h9v11h-9zM552 678h10v11h-10zM599 678h19v11h-19zM656 678h38v11h-38zM712 678h10v11h-10zM336 689h9v11h-9zM364 689h10v11h-10zM393 689h9v11h-9zM487 689h9v11h-9zM505 689h10v11h-10zM581 689h37v11h-37zM656 689h9v11h-9zM731 689h19v11h-19zM355 700h9v11h-9zM383 700h10v11h-10zM458 700h19v11h-19zM628 700h9v11h-9zM647 700h9v11h-9zM345 711h19v11h-19zM458 711h19v11h-19zM524 711h10v11h-10zM656 711h19v11h-19zM750 711h28v11h-28zM477 722h19v10h-19zM515 722h19v10h-19zM562 722h28v10h-28zM759 722h10v10h-10zM571 732h28v12h-28zM684 732h10v12h-10zM355 744h19v11h-19zM571 744h10v11h-10zM750 744h9v11h-9zM393 755h9v11h-9zM505 755h10v11h-10zM534 755h9v11h-9zM571 755h10v11h-10zM675 755h9v11h-9zM703 755h19v11h-19zM731 755h28v11h-28zM402 766h9v11h-9zM712 766h10v11h-10zM571 777h19v11h-19zM647 777h28v11h-28zM411 788h10v11h-10zM430 788h28v11h-28zM468 788h9v11h-9zM599 788h10v11h-10zM647 788h18v11h-18zM684 788h10v11h-10zM449 799h28v11h-28zM618 799h10v11h-10zM477 810h10v11h-10z"/>
<path fill="#ab162a" d="M449 644h9v12h-9zM468 644h19v12h-19zM571 644h10v12h-10zM298 656h10v10h-10zM449 656h9v10h-9zM468 656h9v10h-9zM317 666h10v12h-10zM336 666h9v12h-9zM515 666h19v12h-19zM543 666h38v12h-38zM345 689h10v11h-10zM374 689h9v11h-9zM712 689h19v11h-19zM374 700h9v11h-9zM656 700h9v11h-9zM712 700h19v11h-19zM628 711h9v11h-9zM647 711h9v11h-9zM364 722h10v10h-10zM609 722h19v10h-19zM656 722h9v10h-9zM684 722h28v10h-28zM731 722h10v10h-10zM694 732h28v12h-28zM336 744h19v11h-19zM599 744h10v11h-10zM694 744h28v11h-28zM355 755h19v11h-19zM383 755h10v11h-10zM581 755h18v11h-18zM684 755h10v11h-10zM355 766h9v11h-9zM581 766h9v11h-9zM665 766h10v11h-10zM374 777h19v11h-19zM402 777h19v11h-19zM675 777h9v11h-9zM609 788h28v11h-28zM684 799h10v11h-10zM449 810h19v11h-19z"/>
<path fill="#67001f" d="M336 678h9v11h-9zM99 722h30v10h-30zM628 732h28v12h-28zM618 744h57v11h-57zM618 755h29v11h-29zM374 766h19v11h-19zM609 766h28v11h-28zM609 777h19v11h-19z"/>
<path fill="#c43c3c" d="M148 722h19v10h-19z"/>
</g>
<g fill="none" stroke-linejoin="round" stroke-linecap="round"><path stroke="#8a8a8a" stroke-width="1" d="M117.2 617.7L117.2 559.6L235.9 558.9L243.3 562.1L249.4 565.8L255.6 569.0L260.1 572.4L258.1 577.4L254.4 579.9M117.2 617.7L160.5 617.7L167.9 608.5L176.5 598.4L185.2 594.7L193.8 591.2L203.7 587.3L213.6 584.8L223.5 583.1L233.4 581.3L243.3 580.8L254.4 579.9M168.6 609.0L172.1 615.2L171.1 623.8L169.1 633.7L169.9 639.2L173.6 643.1L177.8 637.4L181.5 635.5L186.9 636.7L191.9 643.1L195.1 647.3L200.0 648.6L205.0 644.9L211.1 641.1L219.8 640.7L228.4 640.2L237.1 639.2L245.7 636.7L253.2 635.0L259.3 632.5L265.5 630.8L270.9 631.8M171.6 643.6L169.1 648.6L160.5 658.4L151.8 664.6L145.7 665.9L140.7 659.7L134.5 660.4L127.1 663.4L117.2 664.6L117.2 730.1L122.2 727.6L127.1 723.9L134.5 720.2L140.7 715.3L144.4 710.3L151.8 714.0L155.5 707.9L159.3 698.0L165.4 693.0L171.6 691.1L179.0 689.3L185.2 693.0L196.3 694.3L203.7 691.8L213.6 690.6L221.0 693.0L226.0 696.7M245.7 639.9L237.1 643.1L229.7 647.3L223.5 653.5L221.0 659.7L229.7 657.2L238.3 656.0L245.7 658.4L253.2 662.1L259.3 665.9L258.1 672.0L249.4 673.3L240.8 672.8L234.6 673.3L229.7 678.2L227.2 685.6L226.0 695.5L228.4 702.9L230.9 709.1L234.6 706.6L240.8 709.1L248.2 712.8L258.1 720.2L268.0 727.6L277.9 735.0L290.2 742.5L298.9 749.9L301.3 759.8L300.1 765.0M259.3 665.9L268.0 669.6L277.9 674.5L285.3 678.2L291.5 683.2L292.7 688.1L300.1 693.0L310.0 699.2L318.6 705.4L327.3 712.8L332.2 719.0L338.4 722.7L342.1 720.2M268.0 585.5L275.4 591.7L282.8 597.9L290.2 604.1L296.4 610.3L300.1 617.7L307.5 623.8L317.4 628.8L327.3 631.3L337.2 635.0L347.1 637.4L356.9 639.9L366.8 643.6L376.7 648.6L386.6 651.0L395.0 649.8M380.0 653.5L394.8 648.6L412.1 644.9L422.0 642.4L429.4 638.7M430.2 673.3L430.2 607.8L493.7 607.8L493.7 585.5L590.0 585.5L593.0 590.5L596.2 601.6L597.5 609.0L597.5 628.3L644.4 628.3L644.4 650.3L680.0 650.3M593.0 590.5L593.0 563.8L680.0 563.8M380.0 683.2L389.9 684.4L402.2 686.9L412.1 681.9L422.0 677.0L430.2 673.3L439.3 673.3L449.2 674.5L459.1 670.8L466.5 662.1L478.8 660.9L491.2 662.1L503.6 660.9L515.9 660.4L525.8 663.4L538.2 665.9L550.5 666.4L557.9 667.8L561.6 670.8M384.9 735.0L389.9 740.0L391.1 749.9L392.4 765.0M593.4 563.8L828.9 563.8L828.9 765.0M644.8 650.3L697.1 650.3L703.3 646.1L712.0 644.1L720.6 646.1L730.5 651.0L740.4 654.7L751.5 658.4L757.7 660.4L767.6 659.7L775.0 662.1L782.4 665.4L792.3 665.9L798.5 665.9L800.9 660.4L807.1 658.4L817.0 659.7L828.9 660.9M560.0 670.8L572.4 669.6L582.2 673.3L594.6 674.5L609.4 672.8L624.3 675.7L639.1 680.7L646.5 677.0L658.8 675.7L671.2 679.4L683.6 683.2L692.2 686.9L700.9 683.2L708.3 677.0L718.2 679.4L730.5 680.7L742.9 675.7L744.1 667.1L752.8 659.7M692.2 686.9L691.5 698.0L691.2 705.4L691.0 712.8L690.2 720.2L683.6 723.2L679.6 725.9M300.1 749.4L301.3 759.3L305.0 766.7L307.5 774.1L312.5 779.1L322.3 781.5L332.2 789.0L342.1 797.6L352.0 803.8L361.9 810.0L369.3 812.4L379.2 818.6L389.1 824.8L395.0 828.5M307.5 771.7L312.5 766.7L322.3 763.0L332.2 763.8L342.1 766.2L349.5 769.2L356.9 771.7L366.8 776.6L376.7 779.1L386.6 780.3L395.0 777.8M380.0 818.6L389.9 826.0L402.2 834.7L417.1 839.6L431.9 843.3L446.7 842.1L456.6 845.8L464.0 848.3L473.9 854.4L483.8 859.4L496.1 861.9L508.5 861.9L520.9 860.6L527.0 858.2L533.2 861.1L548.0 862.6L567.8 862.6L585.1 861.9L590.0 859.4M464.0 848.3L465.3 838.4L466.5 832.2L470.2 829.7L469.0 823.6L472.7 816.1L478.8 811.2L488.7 812.4L498.6 814.9L508.5 816.1L518.4 818.6L525.8 822.3L530.7 828.5L538.2 831.0L548.0 830.5L557.9 828.5L564.1 824.8L572.8 822.3L582.6 819.9L592.5 821.1L602.4 818.6L612.3 819.9L622.2 818.6L629.6 814.9L637.0 808.7L645.7 803.8L651.8 798.8L650.6 791.4L648.1 784.0L646.9 777.8L654.3 779.1L661.7 782.8L669.1 789.0L675.3 793.9L680.0 791.4M564.1 824.8L567.8 813.7L571.5 798.8L575.2 784.0L580.2 771.7L590.0 759.3L602.4 751.9L617.2 745.7L632.1 740.8L646.9 735.8L661.7 730.9L680.0 725.9M384.9 732.1L389.9 739.5L392.4 749.4L394.8 761.8L402.2 771.7L407.2 779.1L404.7 781.5M641.9 808.7L643.2 818.6L646.9 826.0L654.3 829.7L661.7 831.0L669.1 838.4L676.5 845.8L680.0 848.3M597.5 858.2L602.4 852.0L609.8 850.7L617.2 848.3L624.6 844.6M828.9 700.0L828.9 856.9L695.9 856.9L694.7 848.3M757.7 751.4L828.9 751.4M676.1 753.1L678.6 749.4L686.0 748.2L692.2 749.4L695.9 754.4L698.4 761.8L702.1 768.0L708.3 770.4L714.4 766.7L718.2 760.5L720.6 753.1L728.0 751.9L737.9 755.6L747.8 758.1L752.8 761.8L755.2 754.4L757.7 751.4M676.1 753.1L677.4 761.8L681.1 769.2L684.8 775.4L687.3 784.0L686.0 791.4L678.6 795.1L671.2 793.9L663.8 786.5L657.6 781.5L649.0 777.8L646.5 782.8L647.7 791.4L651.4 798.8L651.4 806.3L645.3 811.2L640.3 816.1L642.8 823.6L646.5 828.5L651.4 832.2M568.6 824.8L579.8 821.1L592.1 821.1L604.5 818.6L619.3 816.1L631.7 812.4L640.3 808.7L645.3 811.2M660.1 828.5L666.3 834.7L673.7 842.1L681.1 845.8L684.8 854.4"/><path stroke="#0a0a0a" stroke-width="1.25" d="M254.4 579.9L260.1 582.3L265.5 584.8L269.2 589.7L272.9 595.4L279.1 599.1L286.5 604.1L292.7 610.3L296.4 614.0L295.2 620.1L297.6 628.8L302.6 635.0L310.0 637.4L317.4 637.4L327.3 638.7L338.4 641.1L347.1 639.2L356.9 643.1L364.4 646.1L370.5 648.6L371.8 657.2L379.2 659.7L389.1 658.4L392.4 656.0L404.7 651.0L417.1 647.3L429.4 646.1L439.3 641.1L449.2 636.2L459.1 637.4L467.7 633.7L473.9 627.6L481.3 620.1L486.3 615.2L493.7 612.7L503.6 607.8L513.4 601.6L522.1 597.2L530.7 596.7L540.6 597.9L550.5 595.4L557.9 593.0L570.3 591.7L582.6 591.2L592.5 590.5L602.4 589.7L612.3 588.0L620.9 586.8L629.6 587.3L638.2 585.5L646.9 581.8L656.8 578.1L666.7 576.4L668.7 575.7L678.6 574.4L683.6 575.7L688.5 579.9L695.9 583.1L703.3 584.3L713.2 586.8L721.9 591.2L728.0 596.7L733.0 601.6L739.2 602.8L744.1 607.8L752.8 612.7L762.6 617.7L772.5 621.4L779.9 626.3L787.3 631.3L794.8 633.7L799.2 635.2L792.3 636.7L788.6 638.7L792.3 643.6L793.5 651.0L791.1 659.7L792.3 667.1L794.8 673.3L800.9 677.0L807.1 681.9L809.6 685.6L805.9 693.0L807.1 698.0L809.6 700.0L817.0 703.7L820.7 708.6L817.0 716.1L817.0 724.7L819.5 732.1L820.7 735.8L815.8 742.0L814.5 749.4L812.1 756.8L805.9 761.8L800.9 765.5L798.5 774.1L792.3 781.5L784.9 787.7L779.9 793.9L778.7 803.8L779.9 811.2L776.2 821.1L772.5 831.0L770.0 838.4L762.6 839.6L755.2 838.4L750.3 842.1L751.5 848.3L745.3 850.7L742.9 854.4L737.9 850.7L733.0 845.8L729.3 840.9L725.6 843.3L724.3 849.5L720.6 852.0L721.9 860.6L721.9 870.5L718.2 876.7L712.0 877.9L714.4 870.5L715.7 860.6L714.4 850.7L710.7 844.6L705.8 843.3L704.6 837.1L700.9 831.0L695.9 824.8L691.0 826.0L688.5 834.7L687.3 840.9L682.3 843.3L676.1 838.4L668.7 832.2L660.1 828.5L651.4 832.2L644.0 837.1L634.1 843.3L626.7 848.3L619.3 854.4L609.4 856.9L599.5 858.2L590.9 859.4L590.0 858.2L587.6 849.5L580.2 844.6L577.7 837.1L570.3 835.9L560.4 833.4L550.5 832.2L540.6 834.7L535.7 842.1L532.0 848.3L529.5 845.8L528.3 835.9L523.3 834.7L514.7 837.1L503.6 839.6L493.7 838.4L486.3 835.9L478.8 833.4L475.1 837.1L472.7 831.0L467.7 829.7L461.5 827.3L459.1 822.3L449.2 819.9L441.8 814.9L438.1 808.7L431.9 806.3L422.0 800.1L413.4 795.1L407.2 789.0L404.7 781.5L394.8 779.1L387.4 784.0L389.1 782.8L387.8 787.7L384.1 790.2L381.7 785.3L374.2 781.5L364.4 776.6L356.9 771.7L352.0 770.4L344.6 766.7L339.6 759.3L338.4 751.9L334.7 744.5L333.5 737.1L339.6 739.5L347.1 737.1L348.3 728.4L347.1 719.8L343.4 714.8L339.6 707.4L338.4 700.0L338.4 702.9L339.6 695.5L333.5 693.0L327.3 686.9L326.1 679.4L323.6 674.5L317.4 673.3L310.0 670.8L302.6 668.3L296.4 665.4L290.2 662.1L287.8 656.0L285.3 648.6L279.1 645.6L274.2 640.7L268.0 639.2L261.1 638.7L258.1 635.7L261.8 633.0L268.0 633.0L271.7 633.7L268.0 626.3L266.7 620.1L265.5 611.5L264.3 606.5L259.3 604.6L253.2 601.6L245.7 596.7L240.8 593.0L239.6 588.0L245.7 583.1L254.4 579.9"/></g>
<g fill="#000"><circle cx="103.5" cy="536.5" r="3.6"/><circle cx="216.3" cy="569.1" r="3.6"/><circle cx="498.3" cy="569.1" r="3.6"/><circle cx="639.3" cy="569.1" r="3.6"/><circle cx="752.1" cy="569.1" r="3.6"/><circle cx="244.5" cy="601.7" r="3.6"/><circle cx="272.7" cy="601.7" r="3.6"/><circle cx="611.1" cy="601.7" r="3.6"/><circle cx="639.3" cy="601.7" r="3.6"/><circle cx="808.5" cy="601.7" r="3.6"/><circle cx="103.5" cy="634.3" r="3.6"/><circle cx="159.9" cy="634.3" r="3.6"/><circle cx="272.7" cy="634.3" r="3.6"/><circle cx="300.9" cy="634.3" r="3.6"/><circle cx="441.9" cy="634.3" r="3.6"/><circle cx="470.1" cy="634.3" r="3.6"/><circle cx="498.3" cy="634.3" r="3.6"/><circle cx="526.5" cy="634.3" r="3.6"/><circle cx="554.7" cy="634.3" r="3.6"/><circle cx="582.9" cy="634.3" r="3.6"/><circle cx="695.7" cy="634.3" r="3.6"/><circle cx="723.9" cy="634.3" r="3.6"/><circle cx="103.5" cy="666.9" r="3.6"/><circle cx="188.1" cy="666.9" r="3.6"/><circle cx="300.9" cy="666.9" r="3.6"/><circle cx="329.1" cy="666.9" r="3.6"/><circle cx="357.3" cy="666.9" r="3.6"/><circle cx="385.5" cy="666.9" r="3.6"/><circle cx="413.7" cy="666.9" r="3.6"/><circle cx="441.9" cy="666.9" r="3.6"/><circle cx="470.1" cy="666.9" r="3.6"/><circle cx="498.3" cy="666.9" r="3.6"/><circle cx="526.5" cy="666.9" r="3.6"/><circle cx="554.7" cy="666.9" r="3.6"/><circle cx="582.9" cy="666.9" r="3.6"/><circle cx="611.1" cy="666.9" r="3.6"/><circle cx="639.3" cy="666.9" r="3.6"/><circle cx="667.5" cy="666.9" r="3.6"/><circle cx="695.7" cy="666.9" r="3.6"/><circle cx="723.9" cy="666.9" r="3.6"/><circle cx="752.1" cy="666.9" r="3.6"/><circle cx="131.7" cy="699.5" r="3.6"/><circle cx="357.3" cy="699.5" r="3.6"/><circle cx="385.5" cy="699.5" r="3.6"/><circle cx="413.7" cy="699.5" r="3.6"/><circle cx="441.9" cy="699.5" r="3.6"/><circle cx="470.1" cy="699.5" r="3.6"/><circle cx="498.3" cy="699.5" r="3.6"/><circle cx="526.5" cy="699.5" r="3.6"/><circle cx="554.7" cy="699.5" r="3.6"/><circle cx="582.9" cy="699.5" r="3.6"/><circle cx="611.1" cy="699.5" r="3.6"/><circle cx="639.3" cy="699.5" r="3.6"/><circle cx="667.5" cy="699.5" r="3.6"/><circle cx="695.7" cy="699.5" r="3.6"/><circle cx="723.9" cy="699.5" r="3.6"/><circle cx="752.1" cy="699.5" r="3.6"/><circle cx="780.3" cy="699.5" r="3.6"/><circle cx="131.7" cy="732.1" r="3.6"/><circle cx="159.9" cy="732.1" r="3.6"/><circle cx="329.1" cy="732.1" r="3.6"/><circle cx="357.3" cy="732.1" r="3.6"/><circle cx="385.5" cy="732.1" r="3.6"/><circle cx="413.7" cy="732.1" r="3.6"/><circle cx="441.9" cy="732.1" r="3.6"/><circle cx="470.1" cy="732.1" r="3.6"/><circle cx="498.3" cy="732.1" r="3.6"/><circle cx="526.5" cy="732.1" r="3.6"/><circle cx="554.7" cy="732.1" r="3.6"/><circle cx="582.9" cy="732.1" r="3.6"/><circle cx="611.1" cy="732.1" r="3.6"/><circle cx="639.3" cy="732.1" r="3.6"/><circle cx="667.5" cy="732.1" r="3.6"/><circle cx="695.7" cy="732.1" r="3.6"/><circle cx="723.9" cy="732.1" r="3.6"/><circle cx="752.1" cy="732.1" r="3.6"/><circle cx="780.3" cy="732.1" r="3.6"/><circle cx="131.7" cy="764.7" r="3.6"/><circle cx="357.3" cy="764.7" r="3.6"/><circle cx="385.5" cy="764.7" r="3.6"/><circle cx="413.7" cy="764.7" r="3.6"/><circle cx="441.9" cy="764.7" r="3.6"/><circle cx="470.1" cy="764.7" r="3.6"/><circle cx="498.3" cy="764.7" r="3.6"/><circle cx="526.5" cy="764.7" r="3.6"/><circle cx="554.7" cy="764.7" r="3.6"/><circle cx="582.9" cy="764.7" r="3.6"/><circle cx="611.1" cy="764.7" r="3.6"/><circle cx="639.3" cy="764.7" r="3.6"/><circle cx="667.5" cy="764.7" r="3.6"/><circle cx="695.7" cy="764.7" r="3.6"/><circle cx="723.9" cy="764.7" r="3.6"/><circle cx="752.1" cy="764.7" r="3.6"/><circle cx="103.5" cy="797.3" r="3.6"/><circle cx="159.9" cy="797.3" r="3.6"/><circle cx="216.3" cy="797.3" r="3.6"/><circle cx="300.9" cy="797.3" r="3.6"/><circle cx="413.7" cy="797.3" r="3.6"/><circle cx="441.9" cy="797.3" r="3.6"/><circle cx="470.1" cy="797.3" r="3.6"/><circle cx="498.3" cy="797.3" r="3.6"/><circle cx="526.5" cy="797.3" r="3.6"/><circle cx="554.7" cy="797.3" r="3.6"/><circle cx="582.9" cy="797.3" r="3.6"/><circle cx="611.1" cy="797.3" r="3.6"/><circle cx="639.3" cy="797.3" r="3.6"/><circle cx="667.5" cy="797.3" r="3.6"/><circle cx="695.7" cy="797.3" r="3.6"/><circle cx="723.9" cy="797.3" r="3.6"/><circle cx="752.1" cy="797.3" r="3.6"/><circle cx="131.7" cy="829.9" r="3.6"/><circle cx="272.7" cy="862.5" r="3.6"/><circle cx="526.5" cy="895.1" r="3.6"/><circle cx="554.7" cy="895.1" r="3.6"/><circle cx="582.9" cy="895.1" r="3.6"/></g>
</g>
<rect x="97.6" y="530.6" width="753.9" height="370.4" fill="none" stroke="#262626" stroke-width="3"/>
<text x="104.2" y="558.9" font-size="25" fill="#000">(b)</text>
<defs><linearGradient id="cb" x1="0" x2="1" y1="0" y2="0">
<stop offset="0.0" stop-color="#053061"/>
<stop offset="0.1" stop-color="#2166ac"/>
<stop offset="0.2" stop-color="#4393c3"/>
<stop offset="0.3" stop-color="#92c5de"/>
<stop offset="0.4" stop-color="#d1e5f0"/>
<stop offset="0.5" stop-color="#f7f7f7"/>
<stop offset="0.6" stop-color="#fddbc7"/>
<stop offset="0.7" stop-color="#f4a582"/>
<stop offset="0.8" stop-color="#d6604d"/>
<stop offset="0.9" stop-color="#b2182b"/>
<stop offset="1.0" stop-color="#67001f"/>
</linearGradient></defs>
<rect x="120" y="926" width="632.8" height="16.7" fill="url(#cb)" stroke="#222" stroke-width="0.7"/>
<text x="121.0" y="971.3" font-size="20.8" text-anchor="middle">&lt;-0.5</text>
<text x="278.5" y="971.3" font-size="20.8" text-anchor="middle">-0.25</text>
<text x="436.5" y="971.3" font-size="20.8" text-anchor="middle">0</text>
<text x="594.5" y="971.3" font-size="20.8" text-anchor="middle">0.25</text>
<text x="753.0" y="971.3" font-size="20.8" text-anchor="middle">&gt;0.5</text>
<text x="797.4" y="943.7" font-size="20.3" text-anchor="middle">K</text>
</svg></body></html>
